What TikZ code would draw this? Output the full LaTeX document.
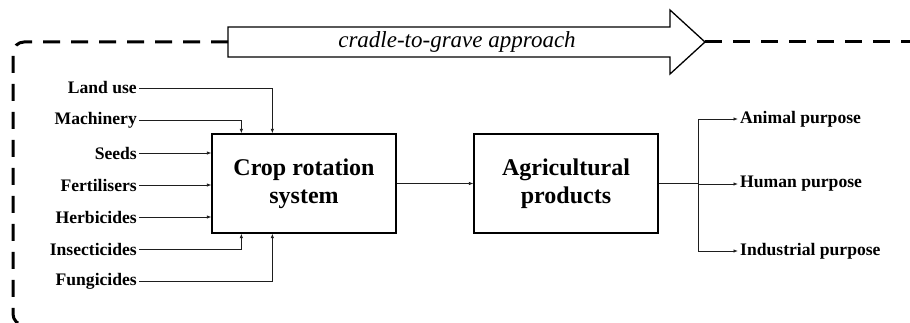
\documentclass[tikz,border=0pt]{standalone}
\usepackage{fontspec}
\setmainfont{Liberation Serif}
\usepackage{xcolor}
\definecolor{inkline}{HTML}{1E1E1E}
\usepackage{tikz}
\usetikzlibrary{arrows.meta}

\tikzset{
  flow/.style={line width=0.8pt, color=inkline, -{Latex[length=4.5pt,width=3.5pt]}},
  inlabel/.style={inner sep=2pt, font=\fontsize{17.6}{20}\selectfont\bfseries},
  mainbox/.style={draw, line width=1.3pt, minimum width=184pt, minimum height=99pt,
    align=center, font=\fontsize{24}{28}\selectfont\bfseries},
  boundary/.style={line width=3pt, dash pattern=on 17pt off 11pt, rounded corners=11pt}
}

\begin{document}
\begin{tikzpicture}[x=1pt, y=1pt]
  \path[use as bounding box, clip] (0,0) rectangle (910,322);
  % Big arrow along the top
  \draw[line width=1.3pt, fill=white]
    (228,295) -- (670,295) -- (670,312) -- (705,280) -- (670,248)
    -- (670,265) -- (228,265) -- cycle;
  \node[font=\fontsize{23}{26}\selectfont\itshape] (approach) at (457,280) {cradle-to-grave approach};
  % Dashed system boundary
  \draw[boundary] (705,280) -- (915,280);
  \draw[boundary] (228,280) -- (13,280) -- (13,-3) -- (80,-3);
  % Main boxes
  \node[mainbox] (crop) at (304,138.5) {Crop rotation\\system};
  \node[mainbox] (agri) at (566,138.5) {Agricultural\\products};
  \draw[flow] (crop.east) -- (agri.west);
  % Inputs
  \foreach \name/\txt/\y in {landuse/Land use/234, machinery/Machinery/202,
      seeds/Seeds/169, fert/Fertilisers/137, herb/Herbicides/105,
      insect/Insecticides/73, fung/Fungicides/41}
    \node[inlabel, anchor=east] (\name) at (139,\y) {\txt};
  \foreach \name in {seeds,fert,herb}
    \draw[flow] (\name.east) -- (\name.east -| crop.west);
  \draw[flow] (landuse.east) -| ([xshift=61pt]crop.north west);
  \draw[flow] (machinery.east) -| ([xshift=30pt]crop.north west);
  \draw[flow] (insect.east) -| ([xshift=30pt]crop.south west);
  \draw[flow] (fung.east) -| ([xshift=61pt]crop.south west);
  % Outputs
  \coordinate (fork) at (698,138.5);
  \foreach \name/\txt/\y in {animal/Animal purpose/203, human/Human purpose/138,
      industrial/Industrial purpose/71}
    \node[inlabel, anchor=west] (\name) at (738,\y) {\txt};
  \draw[line width=0.8pt, color=inkline] (agri.east) -- (fork);
  \foreach \name in {animal,human,industrial}
    \draw[flow] (fork) |- (\name.west);
\end{tikzpicture}
\end{document}
